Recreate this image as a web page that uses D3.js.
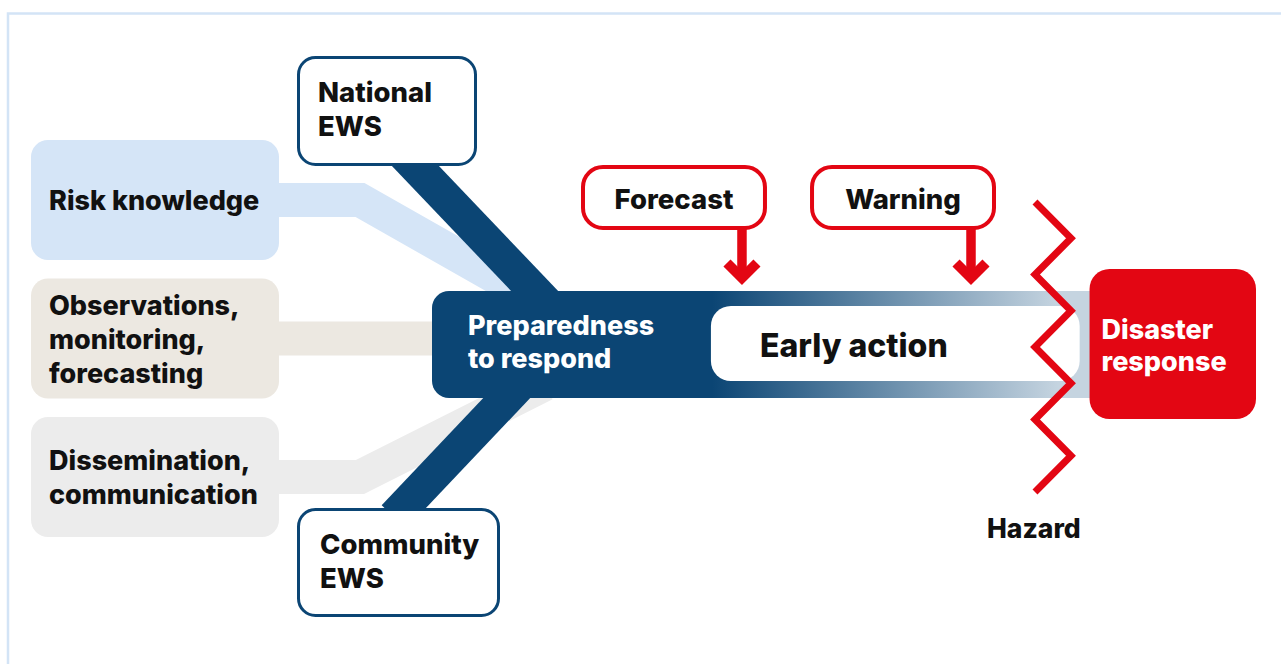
<!DOCTYPE html>
<html>
<head>
<meta charset="utf-8">
<script src="https://cdn.jsdelivr.net/npm/d3@7"></script>
<style>
  body { margin: 0; background: #fff; }
  #chart text { font-family: Inter, 'Noto Sans', sans-serif; font-weight: 800; }
</style>
</head>
<body>
<div id="chart"></div>
<script>
// Early warning system diagram

// Data
const pillars = ['Risk knowledge', 'Observations,\nmonitoring,\nforecasting', 'Dissemination,\ncommunication']
const pillarFills = ['#d5e5f7', '#ece8e1', '#ececec']
const levels = ['National\nEWS', 'Community\nEWS']
const stages = ['Preparedness\nto respond', 'Early action', 'Disaster\nresponse']
const alerts = ['Forecast', 'Warning']
const hazard = 'Hazard'
const hazardTeeth = [0, 1, 0, 1, 0, 1, 0, 1, 0]

const width = 1281
const height = 664
const dark = '#0b4574'
const red = '#e30613'

const svg = d3.select('#chart')
  .append('svg')
  .attr('width', width)
  .attr('height', height)

// Scales
const y = d3.scaleBand()
  .domain(pillars)
  .range([140, 537])
  .paddingInner(0.1336)

// timeline from preparedness (0) to disaster response (100)
const x = d3.scaleLinear()
  .domain([0, 100])
  .range([432, 1256])

const ax = d3.scaleBand()
  .domain(alerts)
  .range([581, 996])
  .paddingInner(0.188)

const hy = d3.scaleLinear()
  .domain([0, hazardTeeth.length - 1])
  .range([202, 492])
const hx = d3.scaleLinear()
  .domain([0, 1])
  .range([1035, 1071])

const barTop = 291
const barBottom = 398
const barMid = (barTop + barBottom) / 2

// multi-line text helper
function label (g, txt, tx, cy, size, lh, off, fill) {
  const lines = txt.split('\n')
  const t = g.append('text')
    .attr('fill', fill || '#111')
    .style('font-size', `${size}px`)
  lines.forEach((l, i) => {
    t.append('tspan')
      .attr('x', tx)
      .attr('y', cy - (lines.length - 1) * lh / 2 + i * lh + off)
      .text(l)
  })
  return t
}

// Frame
svg.append('rect')
  .attr('x', 8).attr('y', 13.5)
  .attr('width', width + 20).attr('height', height + 20)
  .attr('fill', 'none')
  .attr('stroke', '#d3e4f6')
  .attr('stroke-width', 2.5)

// Pillar connectors
const link = d3.line()
const mid = y.bandwidth() / 2
const connectors = [
  [[270, y(pillars[0]) + mid], [360, y(pillars[0]) + mid], [545, barTop + 14]],
  [[270, y(pillars[1]) + mid], [450, y(pillars[1]) + mid]],
  [[270, y(pillars[2]) + mid], [360, y(pillars[2]) + mid], [545, barBottom - 14]]
]
svg.append('g').selectAll('path')
  .data(pillars)
  .enter().append('path')
  .attr('d', (d, i) => link(connectors[i]))
  .attr('fill', 'none')
  .attr('stroke', (d, i) => pillarFills[i])
  .attr('stroke-width', 34)
  .attr('stroke-linejoin', 'miter')

// Pillar boxes
const pg = svg.append('g')
pg.selectAll('rect')
  .data(pillars)
  .enter().append('rect')
  .attr('x', 31)
  .attr('y', d => y(d))
  .attr('width', 248)
  .attr('height', y.bandwidth())
  .attr('rx', 17)
  .attr('fill', (d, i) => pillarFills[i])
pillars.forEach(d => label(pg, d, 49, y(d) + mid, 27, 34, 10))

// Level trunks (national / community)
const trunks = [
  [[404, 154], [548, 305]],
  [[394, 517], [520, 384]]
]
svg.append('g').selectAll('path')
  .data(levels)
  .enter().append('path')
  .attr('d', (d, i) => link(trunks[i]))
  .attr('stroke', dark)
  .attr('stroke-width', 34)

// Level boxes
const levelBoxes = [
  { x: 297, y: 56, w: 180, h: 110, tx: 318 },
  { x: 297, y: 508, w: 203, h: 109, tx: 320 }
]
const lg = svg.append('g')
levels.forEach((d, i) => {
  const b = levelBoxes[i]
  lg.append('rect')
    .attr('x', b.x + 1.5).attr('y', b.y + 1.5)
    .attr('width', b.w - 3).attr('height', b.h - 3)
    .attr('rx', 17)
    .attr('fill', '#fff')
    .attr('stroke', dark)
    .attr('stroke-width', 3)
  label(lg, d, b.tx, b.y + b.h / 2, 27.5, 34, 8)
})

// Timeline bar with gradient
const grad = svg.append('defs').append('linearGradient')
  .attr('id', 'fade')
  .attr('gradientUnits', 'userSpaceOnUse')
  .attr('x1', x(34)).attr('x2', x(76))
  .attr('y1', 0).attr('y2', 0)
grad.append('stop').attr('offset', 0).attr('stop-color', dark)
grad.append('stop').attr('offset', 1).attr('stop-color', '#c5d4e0')

svg.append('rect')
  .attr('x', x(0))
  .attr('y', barTop)
  .attr('width', x(85) - x(0))
  .attr('height', barBottom - barTop)
  .attr('rx', 17)
  .attr('fill', 'url(#fade)')

label(svg, stages[0], x(0) + 36, barMid, 27, 33, 6.5, '#fff')

// Early action
svg.append('rect')
  .attr('x', x(33.85))
  .attr('y', 306)
  .attr('width', x(78.6) - x(33.85))
  .attr('height', 75)
  .attr('rx', 20)
  .attr('fill', '#fff')
label(svg, stages[1], x(33.85) + 49, barMid, 32, 34, 12)

// Disaster response
svg.append('rect')
  .attr('x', x(79.8))
  .attr('y', 269)
  .attr('width', x(100) - x(79.8))
  .attr('height', 150)
  .attr('rx', 20)
  .attr('fill', red)
label(svg, stages[2], x(79.8) + 12, barMid, 27, 32, 10, '#fff')

// Hazard zigzag
svg.append('path')
  .attr('d', d3.line().x(d => hx(d)).y((d, i) => hy(i))(hazardTeeth))
  .attr('fill', 'none')
  .attr('stroke', red)
  .attr('stroke-width', 7)
  .attr('stroke-linejoin', 'miter')
label(svg, hazard, 987, 538, 26.5, 0, 0)

// Alerts: boxes and arrows
const ag = svg.append('g')
alerts.forEach(d => {
  const bx = ax(d)
  const bw = ax.bandwidth()
  const ar = bx + bw - 25
  ag.append('line')
    .attr('x1', ar).attr('x2', ar)
    .attr('y1', 225).attr('y2', 276)
    .attr('stroke', red)
    .attr('stroke-width', 9.5)
  ag.append('path')
    .attr('d', link([[ar - 15, 263], [ar, 278], [ar + 15, 263]]))
    .attr('fill', 'none')
    .attr('stroke', red)
    .attr('stroke-width', 10)
    .attr('stroke-linejoin', 'miter')
  ag.append('rect')
    .attr('x', bx + 2).attr('y', 167)
    .attr('width', bw - 4).attr('height', 61)
    .attr('rx', 20)
    .attr('fill', '#fff')
    .attr('stroke', red)
    .attr('stroke-width', 4)
  label(ag, d, bx + bw / 2, 197.5, 27.5, 0, 11.5)
    .attr('text-anchor', 'middle')
})
</script>
</body>
</html>
